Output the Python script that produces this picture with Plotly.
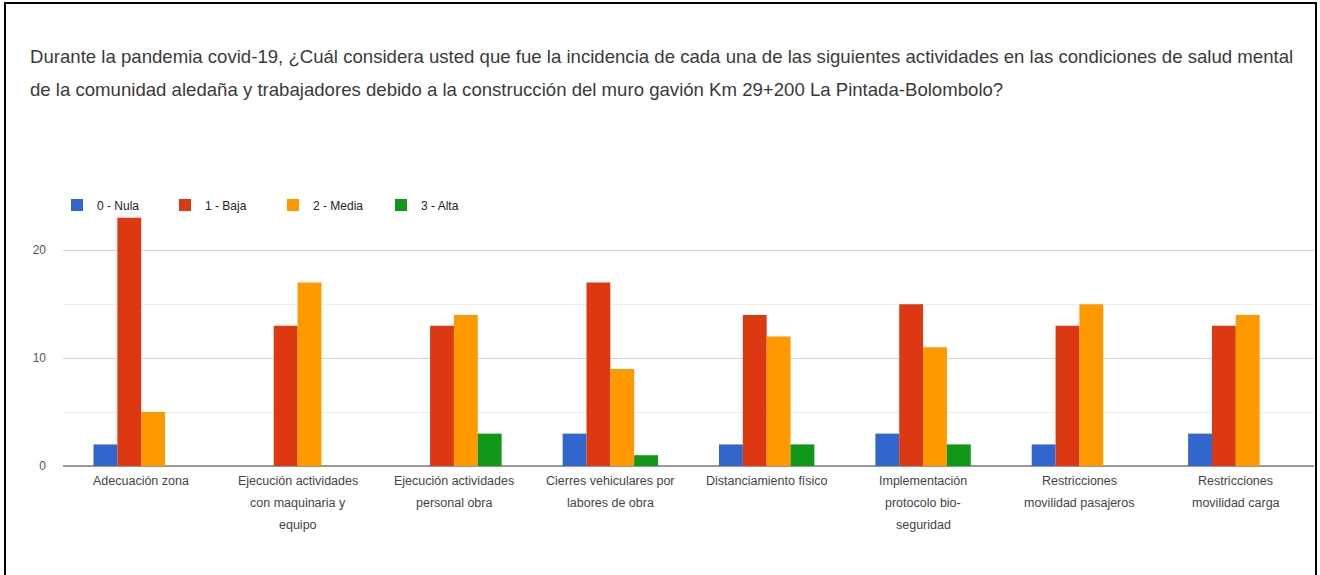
import plotly.graph_objects as go

categories = [
    "Adecuación zona",
    "Ejecución actividades<br>con maquinaria y<br>equipo",
    "Ejecución actividades<br>personal obra",
    "Cierres vehiculares por<br>labores de obra",
    "Distanciamiento físico",
    "Implementación<br>protocolo bio-<br>seguridad",
    "Restricciones<br>movilidad pasajeros",
    "Restricciones<br>movilidad carga",
]
series_names = ["0 - Nula", "1 - Baja", "2 - Media", "3 - Alta"]
nula = [2, 0, 0, 3, 2, 3, 2, 3]
baja = [23, 13, 13, 17, 14, 15, 13, 13]
media = [5, 17, 14, 9, 12, 11, 15, 14]
alta = [0, 0, 3, 1, 2, 2, 0, 0]
colors = ["#3366cc", "#dc3912", "#ff9900", "#109618"]
title_line1 = ("Durante la pandemia covid-19, ¿Cuál considera usted que fue la incidencia de cada una "
               "de las siguientes actividades en las condiciones de salud mental")
title_line2 = ("de la comunidad aledaña y trabajadores debido a la construcción del muro gavión "
               "Km 29+200 La Pintada-Bolombolo?")

W, H = 1320, 575
L, R, T, B = 63, 6, 207, 109
pw, ph = W - L - R, H - T - B

def px_x(x):
    return (x - L) / pw

def px_y(y):
    return (H - B - y) / ph

fig = go.Figure()
for name, vals, col in zip(series_names, [nula, baja, media, alta], colors):
    fig.add_trace(go.Bar(x=categories, y=vals, name=name, marker=dict(color=col, line=dict(width=0))))

annotations = [
    dict(text=title_line1, xref="paper", yref="paper", x=px_x(28), y=px_y(56),
         xanchor="left", yanchor="middle", showarrow=False,
         font=dict(size=18.6, color="#3a3a3a")),
    dict(text=title_line2, xref="paper", yref="paper", x=px_x(28), y=px_y(89),
         xanchor="left", yanchor="middle", showarrow=False,
         font=dict(size=18.6, color="#3a3a3a")),
]
# category labels, one line per annotation for the wider line spacing of the reference
for cat in categories:
    for i, line in enumerate(cat.split("<br>")):
        annotations.append(dict(text=line, xref="x", yref="paper", x=cat, y=0,
                                xanchor="center", yanchor="middle", yshift=-(15 + 22 * i),
                                showarrow=False, font=dict(size=12.5, color="#444")))

fig.update_layout(
    width=W, height=H,
    margin=dict(l=L, r=R, t=T, b=B, autoexpand=False),
    paper_bgcolor="white", plot_bgcolor="white",
    barmode="group", bargap=0.39, bargroupgap=0.0,
    font=dict(family="Liberation Sans, Arial, sans-serif", size=12, color="#444"),
    showlegend=True,
    legend=dict(orientation="h", x=px_x(57), y=px_y(205), xanchor="left", yanchor="middle",
                font=dict(size=12, color="#222"), entrywidth=63, entrywidthmode="pixels",
                bgcolor="rgba(0,0,0,0)", traceorder="normal"),
    xaxis=dict(showgrid=False, showticklabels=False, ticks="", showline=False),
    yaxis=dict(range=[0, 24], dtick=10, tick0=0, showgrid=True, gridcolor="#d4d4d4", gridwidth=1,
               zeroline=True, zerolinecolor="#999999", zerolinewidth=2,
               minor=dict(dtick=5, showgrid=True, gridcolor="#ededed", gridwidth=1),
               tickfont=dict(size=12, color="#555"), ticklabelstandoff=16, ticks=""),
    annotations=annotations,
    shapes=[
        dict(type="rect", xref="paper", yref="paper", x0=px_x(5), x1=px_x(1316),
             y0=px_y(640), y1=px_y(3), line=dict(color="black", width=2), layer="above"),
    ],
)

fig.write_html("out.html", config={"displayModeBar": False},
               post_script="document.body.style.margin='0';")
